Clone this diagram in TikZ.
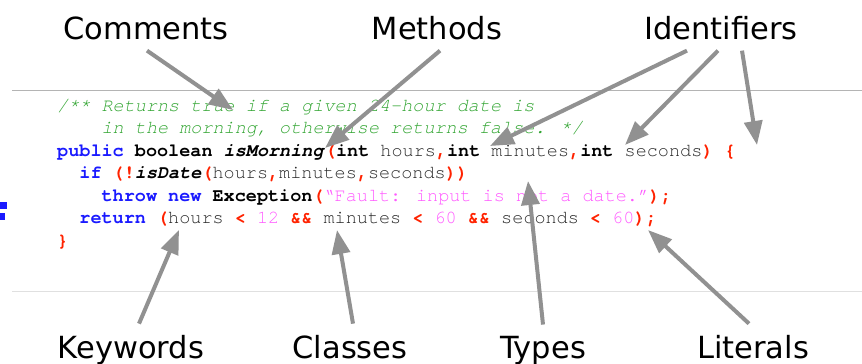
\documentclass[tikz,border=0pt]{standalone}
\usepackage{fontspec}
\usetikzlibrary{arrows.meta}
\newfontfamily\lblfont{DejaVu Sans}
\newfontfamily\codefont{TeX Gyre Cursor}

\definecolor{cmtgreen}{RGB}{50,165,50}
\definecolor{kwblue}{RGB}{26,26,255}
\definecolor{punred}{RGB}{255,34,0}
\definecolor{litpink}{RGB}{255,90,255}
\definecolor{idgray}{RGB}{40,40,40}
\definecolor{arrowgray}{RGB}{145,145,145}

% token colouring
\newcommand{\kw}[1]{\textcolor{kwblue}{\bfseries #1}}
\newcommand{\ty}[1]{\textbf{#1}}
\newcommand{\mth}[1]{\textbf{\textit{#1}}}
\newcommand{\pn}[1]{\textcolor{punred}{\bfseries #1}}
\newcommand{\lit}[1]{\textcolor{litpink}{#1}}
\newcommand{\idf}[1]{\textcolor{idgray}{#1}}

\tikzset{
  lbl/.style={font=\lblfont\fontsize{30.5}{36}\selectfont, inner sep=11pt},
  codeline/.style={font=\codefont\fontsize{18.5}{22}\selectfont, inner sep=0pt, anchor=base west},
  pointer/.style={draw=arrowgray, line width=4pt, -{Triangle[length=24pt,width=18pt]}}
}

\begin{document}
\begin{tikzpicture}[x=1pt, y=-1pt]
\useasboundingbox (0,0) rectangle (862,364);

% rules
\draw[draw={rgb,255:red,180;green,180;blue,180}, line width=1pt] (12,90) -- (862,90);
\draw[draw={rgb,255:red,224;green,224;blue,224}, line width=1pt] (12,291) -- (862,291);

% cut-off glyph at the left edge
\fill[kwblue] (0,202) rectangle (7,209);
\fill[kwblue] (0,213) rectangle (5,220);

% the code
\node[codeline] (l1) at (57,111) {\textcolor{cmtgreen}{\itshape /** Returns true if a given 24-hour date is}};
\node[codeline] (l2) at (101.4,133.5) {\textcolor{cmtgreen}{\itshape in the morning, otherwise returns false. */}};
\node[codeline] (l3) at (57,156) {\kw{public} \ty{boolean} \mth{isMorning}\pn{(}\ty{int} \idf{hours}\pn{,}\ty{int} \idf{minutes}\pn{,}\ty{int} \idf{seconds}\pn{)} \pn{\{}};
\node[codeline] (l4) at (79.2,178.5) {\kw{if} \pn{(!}\mth{isDate}\pn{(}\idf{hours}\pn{,}\idf{minutes}\pn{,}\idf{seconds}\pn{))}};
\node[codeline] (l5) at (101.4,201) {\kw{throw} \kw{new} \ty{Exception}\pn{(}\lit{“Fault: input is not a date.”}\pn{);}};
\node[codeline] (l6) at (79.2,223.5) {\kw{return} \pn{(}\idf{hours} \pn{<} \lit{12} \pn{\&\&} \idf{minutes} \pn{<} \lit{60} \pn{\&\&} \idf{seconds} \pn{<} \lit{60}\pn{);}};
\node[codeline] (l7) at (57,246) {\pn{\}}};

% labels
\node[lbl, anchor=base] (comments) at (146,39) {Comments};
\node[lbl, anchor=base] (methods) at (437,39) {Methods};
\node[lbl, anchor=base] (idents) at (721,39) {Identifiers};
\node[lbl, anchor=base] (keywords) at (131,358) {Keywords};
\node[lbl, anchor=base] (classes) at (350,358) {Classes};
\node[lbl, anchor=base] (types) at (543,358) {Types};
\node[lbl, anchor=base] (literals) at (753,358) {Literals};

% tips
\coordinate (cmtTip) at (233,110);
\coordinate (mthTip) at (325,148);
\coordinate (idTipA) at (490,146);
\coordinate (idTipB) at (625,145);
\coordinate (idTipC) at (757,145);
\coordinate (kwTip) at (179,230);
\coordinate (clTip) at (337,230);
\coordinate (tyTip) at (528,181);
\coordinate (litTip) at (648,230);

% pointers
\draw[pointer] ([xshift=1pt]comments.south) -- (cmtTip);
\draw[pointer] ([xshift=3pt]methods.south) -- (mthTip);
\draw[pointer] ([xshift=-34pt]idents.south) -- (idTipA);
\draw[pointer] ([xshift=-3pt]idents.south) -- (idTipB);
\draw[pointer] ([xshift=21pt]idents.south) -- (idTipC);
\draw[pointer] ([xshift=8pt]keywords.north) -- (kwTip);
\draw[pointer] ([xshift=3pt]classes.north) -- (clTip);
\draw[pointer] (types.north) -- (tyTip);
\draw[pointer] ([xshift=-4pt]literals.north) -- (litTip);
\end{tikzpicture}
\end{document}
